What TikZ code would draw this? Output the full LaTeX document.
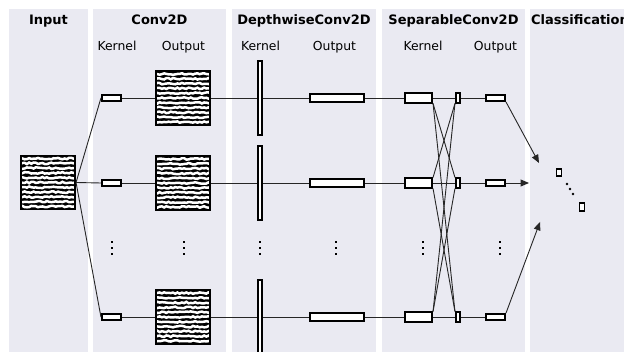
\documentclass[tikz,border=0pt]{standalone}
\usepackage{fontspec}
\setmainfont{DejaVu Sans}
\setsansfont{DejaVu Sans}
\usepackage{tikz}
\usetikzlibrary{positioning}
\usetikzlibrary{arrows}

\definecolor{bgpanel}{HTML}{EAEAF2}

\tikzset{
  head/.style={font=\sffamily\bfseries\fontsize{13}{15}\selectfont, anchor=base, inner sep=0pt},
  sub/.style={font=\sffamily\fontsize{12.4}{14}\selectfont, anchor=base, inner sep=0pt},
  box/.style={draw=black, line width=1.6pt, fill=white, inner sep=0pt},
  conn/.style={draw=black!85, line width=0.9pt},
  sig/.style={draw=black, line width=1.6pt, fill=black, inner sep=0pt,
    minimum width=54.5pt, minimum height=54pt,
    path picture={
      \begin{scope}[shift={(path picture bounding box.center)}]
        \foreach \k in {-5,...,5}
          \draw[white, line width=2.5pt] plot[domain=-30:30, samples=28] (\x, {\k*4.8 + 0.8*rand});
      \end{scope}}},
}

\begin{document}
\begin{tikzpicture}[x=1pt,y=-1pt,>=triangle 45,font=\sffamily]
  \pgfmathsetseed{7}
  \useasboundingbox (0,0) rectangle (624,352);
  \clip (0,0) rectangle (624,352);

  % panels
  \fill[bgpanel] (9,9) rectangle (88,352);
  \fill[bgpanel] (93,9) rectangle (226,352);
  \fill[bgpanel] (232,9) rectangle (376,352);
  \fill[bgpanel] (382,9) rectangle (525,352);
  \fill[bgpanel] (530,9) rectangle (640,352);

  % headers
  \node[head] (hIn) at (48.5,25) {Input};
  \node[head] (hConv) at (159.5,25) {Conv2D};
  \node[head] (hDepth) at (304,25) {DepthwiseConv2D};
  \node[head] (hSep) at (453.5,25) {SeparableConv2D};
  \node[head, anchor=base west] (hClass) at (531,25) {Classification};

  \node[sub] (tConvK) at (117,51) {Kernel};
  \node[sub] (tConvO) at (183.5,51) {Output};
  \node[sub] (tDepthK) at (260.5,51) {Kernel};
  \node[sub] (tDepthO) at (334.5,51) {Output};
  \node[sub] (tSepK) at (423,51) {Kernel};
  \node[sub] (tSepO) at (495.5,51) {Output};

  % input signal
  \node[sig] (in) at (48,182.5) {};

  \foreach \r/\y in {1/98,2/183,3/317} {
    \node[box, minimum width=19.5pt, minimum height=6.5pt] (ck\r) at (111.5,\y) {};
    \node[sig] (co\r) at (183,\y) {};
    \node[box, minimum width=4.5pt, minimum height=73.5pt] (dk\r) at (260,\y) {};
    \node[box, minimum width=54.5pt, minimum height=8.5pt] (do\r) at (337,\y) {};
    \node[box, minimum width=27.5pt, minimum height=9.5pt] (sk\r) at (418.5,\y) {};
    \node[box, minimum width=4.5pt, minimum height=9.5pt] (sb\r) at (458,\y) {};
    \node[box, minimum width=19.5pt, minimum height=6.5pt] (so\r) at (495.5,\y) {};
    \draw[conn] (in.east) -- (ck\r.west);
    \draw[conn] (ck\r) -- (co\r) -- (dk\r) -- (do\r) -- (sk\r) -- (sb\r) -- (so\r);
  }

  % pointwise mixing
  \foreach \i/\j in {1/2,1/3,2/3} {
    \draw[conn] (sk\i.south east) -- (sb\j.north west);
    \draw[conn] (sk\j.north east) -- (sb\i.south west);
  }

  % classification
  \coordinate (a1) at (539,163);
  \coordinate (a2) at (529,183);
  \coordinate (a3) at (540,222);
  \draw[conn,->] (so1.south east) -- (a1);
  \draw[conn,->] (so2) -- (a2);
  \draw[conn,->] (so3.north east) -- (a3);
  \node[box, minimum width=5pt, minimum height=7pt] (cl1) at (559,172.5) {};
  \node[box, minimum width=5pt, minimum height=7.5pt] (cl2) at (582,207) {};
  \foreach \p in {(567,184),(570,189),(573,194)}
    \fill \p circle (1.3);

  % vertical dots
  \foreach \x in {112,184,260,336,423,500}
    \foreach \d in {242,248,254}
      \fill (\x-1.2,\d-1.2) rectangle ++(2.4,2.4);
\end{tikzpicture}
\end{document}
